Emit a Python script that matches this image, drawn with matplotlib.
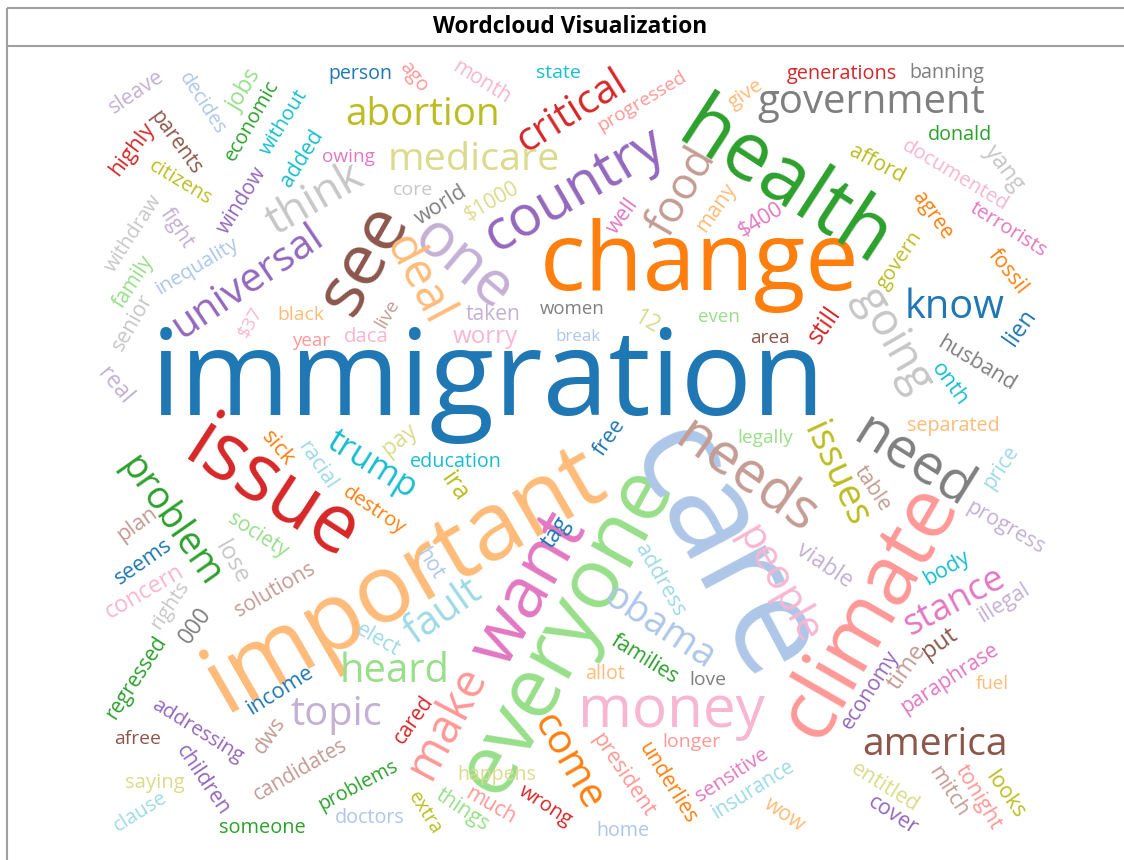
import matplotlib
matplotlib.use('Agg')
import matplotlib.pyplot as plt
from matplotlib.font_manager import FontProperties

# tab20 palette used by the cloud
B, LB = '#1f77b4', '#aec7e8'
O, LO = '#ff7f0e', '#ffbb78'
G, LG = '#2ca02c', '#98df8a'
R, LR = '#d62728', '#ff9896'
P, LP = '#9467bd', '#c5b0d5'
BR, LBR = '#8c564b', '#c49c94'
PK, LPK = '#e377c2', '#f7b6d2'
GR, LGR = '#7f7f7f', '#c7c7c7'
OL, LOL = '#bcbd22', '#dbdb8d'
C, LC = '#17becf', '#9edae5'

title = 'Wordcloud Visualization'

# words of the cloud, biggest first
words = ['immigration', 'change', 'important', 'everyone', 'care', 'climate', 'health',
         'issue', 'country', 'government', 'money', 'needs', 'need', 'one', 'see', 'want',
         'problem', 'medicare', 'abortion', 'america', 'critical', 'universal', 'trump',
         'heard', 'topic', 'make', 'come', 'obama', 'people', 'stance', 'issues', 'going',
         'know', 'think', 'food', 'deal', 'fault', 'education',
         'sleave', 'decides', 'jobs', 'economic', 'without', 'added', 'parents', 'highly',
         'citizens', 'withdraw', 'fight', 'window', 'inequality', 'family', 'senior', 'real',
         'person', 'ago', 'month', 'state', 'owing', 'core', 'world', '$1000', 'live',
         'taken', 'women', 'progressed', 'generations', 'give', 'well', 'many', '$400',
         'even', 'banning', 'donald', 'afford', 'documented', 'yang', 'agree', 'terrorists',
         'govern', 'fossil', 'lien', 'husband', 'onth', 'separated', 'price', 'table',
         'progress', 'body', 'illegal', '$37', 'black', 'year', 'daca', 'worry', 'break',
         '12', 'area', 'still', 'sick', 'racial', 'plan', 'society', 'seems', 'lose',
         'solutions', 'concern', 'rights', '000', 'regressed', 'pay', 'ira', 'destroy',
         'tag', 'hot', 'free', 'legally', 'elect', 'cared', 'happens', 'problems', 'extra',
         'things', 'much', 'wrong', 'doctors', 'home', 'allot', 'families', 'love',
         'address', 'longer', 'president', 'underlies', 'sensitive', 'insurance', 'wow',
         'economy', 'time', 'put', 'paraphrase', 'fuel', 'entitled', 'cover', 'mitch',
         'tonight', 'looks', 'viable', 'income', 'addressing', 'afree', 'dws', 'children',
         'candidates', 'saying', 'clause', 'someone']

# placement: centre x, centre y (pixels from top-left), length along baseline, angle, colour
layout = {
    'immigration': (488, 384, 675, 0, B),
    'change': (700, 265, 320, 0, O),
    'important': (405, 580, 445, 30, LO),
    'everyone': (566, 630, 362, 61, LG),
    'care': (720, 555, 270, -62, LB),
    'climate': (870, 612, 280, 60, LR),
    'health': (784, 186, 236, -33, G),
    'issue': (272, 492, 190, -33, R),
    'country': (575, 190, 200, 30, P),
    'government': (871, 103, 228, 0, GR),
    'money': (671, 712, 187, 0, LPK),
    'needs': (745, 478, 160, -35, LBR),
    'need': (913, 462, 130, -32, GR),
    'one': (462, 265, 110, -40, LP),
    'see': (365, 260, 115, 60, BR),
    'want': (530, 590, 165, 60, PK),
    'problem': (170, 522, 150, -55, G),
    'medicare': (474, 160, 172, 0, LOL),
    'abortion': (423, 115, 155, 0, OL),
    'america': (935, 745, 146, 0, BR),
    'critical': (572, 112, 123, 32, R),
    'universal': (248, 282, 174, 34, P),
    'trump': (372, 465, 100, -32, C),
    'heard': (395, 672, 110, 0, LG),
    'topic': (336, 715, 92, 0, LP),
    'make': (447, 722, 120, 62, LR),
    'come': (568, 762, 105, -60, O),
    'obama': (660, 628, 125, -33, LB),
    'people': (778, 585, 130, -60, LPK),
    'stance': (955, 602, 110, 28, PK),
    'issues': (835, 475, 110, -65, OL),
    'going': (893, 340, 115, -60, LGR),
    'know': (955, 308, 100, 0, B),
    'think': (315, 200, 105, 30, LGR),
    'food': (682, 192, 95, 60, LBR),
    'deal': (418, 280, 95, -62, LO),
    'fault': (443, 612, 85, 35, LC),
    'education': (456, 462, 92, 0, C),
    'sleave': (136, 92, 62, 34, LP),
    'decides': (202, 104, 70, -57, LB),
    'jobs': (245, 91, 45, 59, LG),
    'economic': (252, 121, 90, 60, G),
    'without': (284, 122, 73, 58, C),
    'added': (302, 158, 63, 58, C),
    'parents': (175, 143, 74, -54, BR),
    'highly': (132, 149, 61, 53, R),
    'citizens': (180, 183, 70, -31, OL),
    'withdraw': (134, 233, 88, 57, LGR),
    'fight': (177, 228, 44, -56, LP),
    'window': (242, 200, 75, 58, P),
    'inequality': (197, 266, 93, 31, LB),
    'family': (134, 282, 58, 57, LG),
    'senior': (133, 322, 62, 60, LGR),
    'real': (115, 386, 41, -50, LP),
    'person': (360, 74, 64, 0, B),
    'ago': (414, 77, 34, -51, LR),
    'month': (482, 82, 65, -32, LPK),
    'state': (558, 73, 45, 0, C),
    'owing': (348, 157, 53, 0, PK),
    'core': (413, 190, 40, 0, LGR),
    'world': (441, 205, 57, 32, GR),
    '$1000': (492, 202, 60, 30, LOL),
    'live': (388, 314, 30, 60, LBR),
    'taken': (493, 314, 55, 0, LP),
    'women': (572, 309, 65, 0, GR),
    'progressed': (642, 101, 101, 31, LR),
    'generations': (842, 74, 110, 0, R),
    'give': (746, 94, 38, 34, LO),
    'well': (623, 216, 39, 54, PK),
    'many': (716, 208, 55, 55, LO),
    '$400': (761, 220, 49, 31, PK),
    'even': (719, 317, 42, 0, LG),
    'banning': (947, 73, 75, 0, GR),
    'donald': (960, 135, 64, 0, G),
    'afford': (877, 164, 60, -28, OL),
    'documented': (955, 176, 120, -31, LPK),
    'yang': (1004, 169, 52, -53, LGR),
    'agree': (932, 216, 54, -54, O),
    'terrorists': (1008, 230, 87, -32, PK),
    'govern': (900, 260, 66, 56, OL),
    'fossil': (1008, 272, 51, -52, O),
    'lien': (1020, 328, 39, 55, B),
    'husband': (976, 364, 87, -31, GR),
    'onth': (949, 384, 48, -54, C),
    'separated': (953, 426, 93, 0, LO),
    'price': (1001, 467, 48, 56, LC),
    'table': (872, 489, 50, -56, LBR),
    'progress': (1005, 528, 87, -30, LP),
    'body': (947, 568, 50, 30, C),
    'illegal': (1004, 603, 57, 32, LP),
    '$37': (251, 322, 32, 60, LPK),
    'black': (301, 315, 47, 0, LO),
    'year': (311, 341, 38, 0, LR),
    'daca': (366, 337, 45, 0, LPK),
    'worry': (485, 337, 65, 0, LPK),
    'break': (578, 337, 45, 0, LB),
    '12': (647, 322, 26, -30, LOL),
    'area': (770, 338, 40, 0, BR),
    'still': (825, 325, 39, 55, R),
    'sick': (278, 448, 39, -50, O),
    'racial': (317, 465, 54, -56, LC),
    'plan': (137, 524, 45, 36, LBR),
    'society': (258, 535, 67, -33, LG),
    'seems': (143, 562, 65, 35, B),
    'lose': (232, 563, 46, -60, LGR),
    'solutions': (275, 590, 90, 30, LBR),
    'concern': (145, 592, 88, 30, LPK),
    'rights': (170, 605, 54, 56, LGR),
    '000': (195, 626, 39, 54, GR),
    'regressed': (136, 678, 95, 57, G),
    'pay': (400, 440, 38, 38, LOL),
    'ira': (454, 487, 30, -55, OL),
    'destroy': (374, 511, 71, -34, O),
    'tag': (556, 533, 33, 55, B),
    'hot': (430, 564, 33, -58, LB),
    'free': (610, 437, 40, 55, B),
    'legally': (765, 438, 56, 0, LG),
    'elect': (378, 640, 47, -30, LC),
    'cared': (414, 720, 54, 55, R),
    'happens': (497, 775, 79, 0, LOL),
    'problems': (358, 786, 88, 28, G),
    'extra': (425, 813, 47, -58, OL),
    'things': (462, 810, 60, -34, LG),
    'much': (491, 806, 55, -30, LR),
    'wrong': (545, 806, 60, -33, R),
    'doctors': (370, 818, 70, 0, LB),
    'home': (623, 831, 53, 0, LB),
    'allot': (605, 674, 40, 0, LO),
    'families': (645, 659, 76, -32, G),
    'love': (708, 680, 37, 0, GR),
    'address': (660, 580, 80, -60, LC),
    'longer': (691, 742, 58, 0, LR),
    'president': (623, 775, 96, -56, LR),
    'underlies': (667, 783, 92, -58, O),
    'sensitive': (732, 775, 83, 33, PK),
    'insurance': (753, 790, 94, 32, LC),
    'wow': (784, 815, 45, -34, LO),
    'economy': (870, 690, 90, 57, P),
    'time': (907, 667, 50, 55, LBR),
    'put': (940, 643, 38, 35, BR),
    'paraphrase': (950, 679, 113, 33, PK),
    'fuel': (992, 684, 33, 0, LO),
    'entitled': (885, 787, 76, -32, LOL),
    'cover': (893, 815, 55, -33, P),
    'mitch': (948, 792, 56, -57, LBR),
    'tonight': (978, 797, 72, -59, LR),
    'looks': (1005, 795, 53, -55, OL),
    'viable': (824, 566, 63, -34, LP),
    'income': (280, 690, 75, 32, B),
    'addressing': (197, 731, 104, -32, P),
    'afree': (138, 739, 47, 0, BR),
    'dws': (270, 735, 40, 55, LBR),
    'children': (203, 780, 80, -56, P),
    'candidates': (300, 770, 105, 30, LBR),
    'saying': (155, 783, 60, 0, LOL),
    'clause': (141, 812, 60, 32, LC),
    'someone': (262, 828, 87, 0, G),
}

W, H = 1124, 860
fig = plt.figure(figsize=(W / 100, H / 100), dpi=100)
ax = fig.add_axes([0, 0, 1, 1])
ax.set_xlim(0, W)
ax.set_ylim(H, 0)
ax.axis('off')

renderer = fig.canvas.get_renderer()
font = FontProperties(family='Open Sans', size=100)


def size_for(word, width, fp=font):
    w, _, _ = renderer.get_text_width_height_descent(word, fp, ismath=False)
    return 100 * width / w


for word in words:
    x, y, width, angle, color = layout[word]
    ax.text(x, y, word, fontsize=size_for(word, width), family='Open Sans',
            color=color, rotation=angle, rotation_mode='anchor',
            ha='center', va='center', parse_math=False)

# panel frame with title row
frame = '#a0a0a0'
ax.plot([7, 7], [8, H], color=frame, lw=1.5, solid_capstyle='butt')
ax.plot([7, W], [8, 8], color=frame, lw=1.5, solid_capstyle='butt')
ax.plot([7, W], [46, 46], color=frame, lw=1.5, solid_capstyle='butt')
bold = FontProperties(family='Open Sans', weight='bold', size=100)
ax.text(570, 27, title, fontsize=size_for(title, 275, bold), family='Open Sans',
        weight='bold', ha='center', va='center', color='black')

fig.savefig('out.png', dpi=100, facecolor='white')
